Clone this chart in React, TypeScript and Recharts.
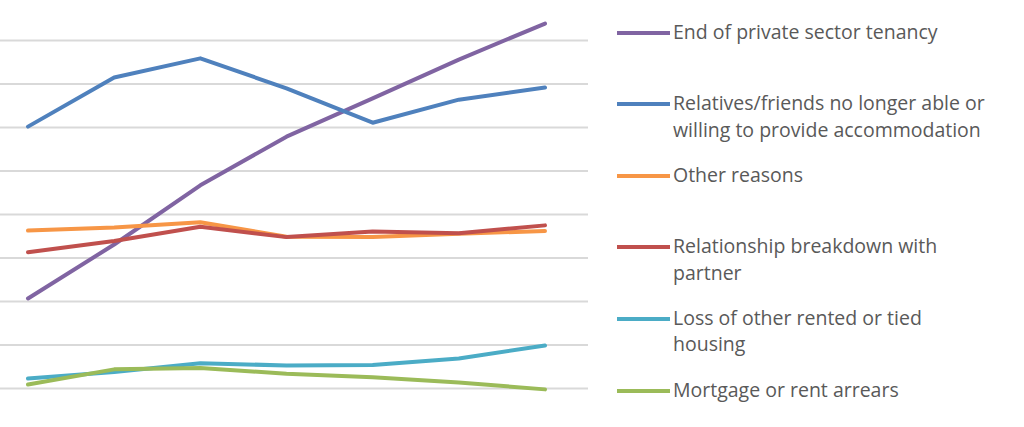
import { LineChart, Line, XAxis, YAxis, CartesianGrid } from "recharts";

// seven periods, no labels shown in the picture
const periods = ["P1", "P2", "P3", "P4", "P5", "P6", "P7"];

const privateTenancy = [3.07, 4.31, 5.67, 6.79, 7.67, 8.56, 9.39];
const relativesFriends = [7.02, 8.15, 8.59, 7.9, 7.11, 7.64, 7.92];
const otherReasons = [4.63, 4.7, 4.82, 4.49, 4.48, 4.56, 4.62];
const relationship = [4.13, 4.39, 4.72, 4.48, 4.61, 4.57, 4.75];
const lossRented = [1.23, 1.38, 1.58, 1.53, 1.54, 1.69, 1.99];
const mortgage = [1.09, 1.44, 1.47, 1.34, 1.26, 1.14, 0.98];

const yTicks = [0, 1, 2, 3, 4, 5, 6, 7, 8, 9, 10];

const series = [
  { key: "privateTenancy", name: "End of private sector tenancy", color: "#8064a2", values: privateTenancy },
  { key: "relativesFriends", name: "Relatives/friends no longer able or willing to provide accommodation", color: "#4f81bd", values: relativesFriends },
  { key: "otherReasons", name: "Other reasons", color: "#f79646", values: otherReasons },
  { key: "relationship", name: "Relationship breakdown with partner", color: "#c0504d", values: relationship },
  { key: "lossRented", name: "Loss of other rented or tied housing", color: "#4bacc6", values: lossRented },
  { key: "mortgage", name: "Mortgage or rent arrears", color: "#9bbb59", values: mortgage },
];

const data = periods.map((p, i) => {
  const row: any = { period: p };
  series.forEach((s) => (row[s.key] = s.values[i]));
  return row;
});

// the one-line and two-line legend labels, as they wrap in the picture
const legendLines: Record<string, string[]> = {
  privateTenancy: ["End of private sector tenancy"],
  relativesFriends: ["Relatives/friends no longer able or", "willing to provide accommodation"],
  otherReasons: ["Other reasons"],
  relationship: ["Relationship breakdown with", "partner"],
  lossRented: ["Loss of other rented or tied", "housing"],
  mortgage: ["Mortgage or rent arrears"],
};

export default function App() {
  return (
    <div
      style={{
        position: "absolute",
        left: 0,
        top: 0,
        width: 1024,
        height: 427,
        overflow: "hidden",
        background: "#ffffff",
        fontFamily: "'Open Sans', 'Noto Sans', sans-serif",
      }}
    >
      <div style={{ position: "absolute", left: -15, top: -3.5 }}>
        <LineChart width={603} height={435} data={data} margin={{ top: 0, right: 0, bottom: 0, left: 0 }}>
          <CartesianGrid vertical={false} stroke="#d9d9d9" strokeWidth={2} />
          <XAxis dataKey="period" hide padding={{ left: 43, right: 43 }} />
          <YAxis hide domain={[0, 10]} ticks={yTicks} />
          {series.map((s) => (
            <Line
              key={s.key}
              dataKey={s.key}
              name={s.name}
              stroke={s.color}
              strokeWidth={4}
              strokeLinecap="round"
              strokeLinejoin="round"
              dot={false}
              activeDot={false}
              type="linear"
              isAnimationActive={false}
            />
          ))}
        </LineChart>
      </div>
      {series.map((s, i) => (
        <div
          key={s.key}
          style={{
            position: "absolute",
            left: 617,
            top: 32 + 71.6 * i - 13.5,
            display: "flex",
            alignItems: "flex-start",
          }}
        >
          <div style={{ width: 53, height: 4, background: s.color, marginTop: 12, marginRight: 3 }} />
          <div style={{ color: "#595959", fontSize: 19.5, lineHeight: "26.5px", whiteSpace: "nowrap" }}>
            {legendLines[s.key].map((t) => (
              <div key={t}>{t}</div>
            ))}
          </div>
        </div>
      ))}
    </div>
  );
}
